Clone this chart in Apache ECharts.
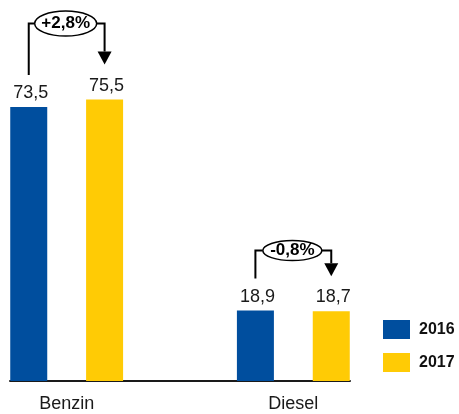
<!DOCTYPE html>
<html>
<head>
<meta charset="utf-8">
<script src="https://cdn.jsdelivr.net/npm/echarts@6/dist/echarts.min.js"></script>
<style>
  html, body { margin: 0; padding: 0; background: #fff; }
  #chart { width: 459px; height: 414px; }
</style>
</head>
<body>
<div id="chart"></div>
<script>
// data
const categories = ['Benzin', '', 'Diesel']
const years = ['2016', '2017']
const values2016 = [73.5, null, 18.9]
const values2017 = [75.5, null, 18.7]
const changeLabels = ['+2,8%', null, '-0,8%']

const colors = ['#004E9E', '#FFCB05']
const narrow = '"Liberation Sans Narrow", "Arial Narrow", "Liberation Sans", Arial, sans-serif'

let chart = echarts.init(document.getElementById('chart'))

function fmt (p) {
  return p.value == null ? '' : p.value.toFixed(1).replace('.', ',')
}

function barSeries (name, data, color) {
  return {
    name: name,
    type: 'bar',
    data: data,
    barWidth: 37,
    barGap: '105%',
    itemStyle: { color: color },
    label: {
      show: true,
      position: 'top',
      distance: 5,
      offset: [2, 0],
      formatter: fmt,
      color: '#1a1a1a',
      fontSize: 18,
      fontFamily: narrow
    }
  }
}

let option = {
  animation: false,
  color: colors,
  grid: { left: 10, right: 109, top: 8.2, bottom: 33 },
  legend: {
    data: years,
    orient: 'vertical',
    left: 383,
    top: 320,
    padding: 0,
    icon: 'rect',
    itemWidth: 27,
    itemHeight: 19,
    itemGap: 14,
    textStyle: { fontSize: 16, fontWeight: 'bold', color: '#111', fontFamily: '"Liberation Sans", Arial, sans-serif', padding: [0, 0, 0, 4] }
  },
  xAxis: {
    type: 'category',
    data: categories,
    axisTick: { show: false },
    axisLine: { lineStyle: { color: '#1a1a1a', width: 2 } },
    axisLabel: { color: '#1a1a1a', fontSize: 18, fontFamily: narrow, margin: 14 }
  },
  yAxis: {
    type: 'value',
    min: 0,
    max: 100,
    show: false,
    splitLine: { show: false }
  },
  series: [
    barSeries(years[0], values2016, colors[0]),
    barSeries(years[1], values2017, colors[1])
  ]
}
option && chart.setOption(option)

// change brackets drawn from the bar layouts
function drawBrackets () {
  let d0 = chart.getModel().getSeriesByIndex(0).getData()
  let d1 = chart.getModel().getSeriesByIndex(1).getData()
  let rises = [76, 60]
  let ellipses = [[31, 12.5], [29.5, 10]]
  let els = []
  let k = 0
  changeLabels.forEach(function (txt, i) {
    if (!txt) return
    let a = d0.getItemLayout(i)
    let b = d1.getItemLayout(i)
    let xa = a.x + a.width / 2
    let xb = b.x + b.width / 2
    let topA = Math.min(a.y, a.y + a.height)
    let topB = Math.min(b.y, b.y + b.height)
    let yTop = Math.min(topA, topB) - rises[k]
    let rx = ellipses[k][0]
    let ry = ellipses[k][1]
    let cx = (xa + xb) / 2 - 1
    let lineStyle = { stroke: '#000', lineWidth: 2, fill: null }
    els.push({ type: 'polyline', shape: { points: [[xa, topA - 32], [xa, yTop], [cx - rx, yTop]] }, style: lineStyle })
    els.push({ type: 'polyline', shape: { points: [[cx + rx, yTop], [xb, yTop], [xb, topB - 48]] }, style: lineStyle })
    els.push({ type: 'polygon', shape: { points: [[xb - 7, topB - 48], [xb + 7, topB - 48], [xb, topB - 35]] }, style: { fill: '#000' } })
    els.push({ type: 'ellipse', shape: { cx: cx, cy: yTop, rx: rx, ry: ry }, style: { fill: '#fff', stroke: '#000', lineWidth: 1.5 } })
    els.push({
      type: 'text',
      x: cx,
      y: yTop,
      style: { text: txt, fill: '#000', font: 'bold 17px ' + narrow, align: 'center', verticalAlign: 'middle' }
    })
    k++
  })
  chart.setOption({ graphic: els })
}
drawBrackets()
</script>
</body>
</html>
